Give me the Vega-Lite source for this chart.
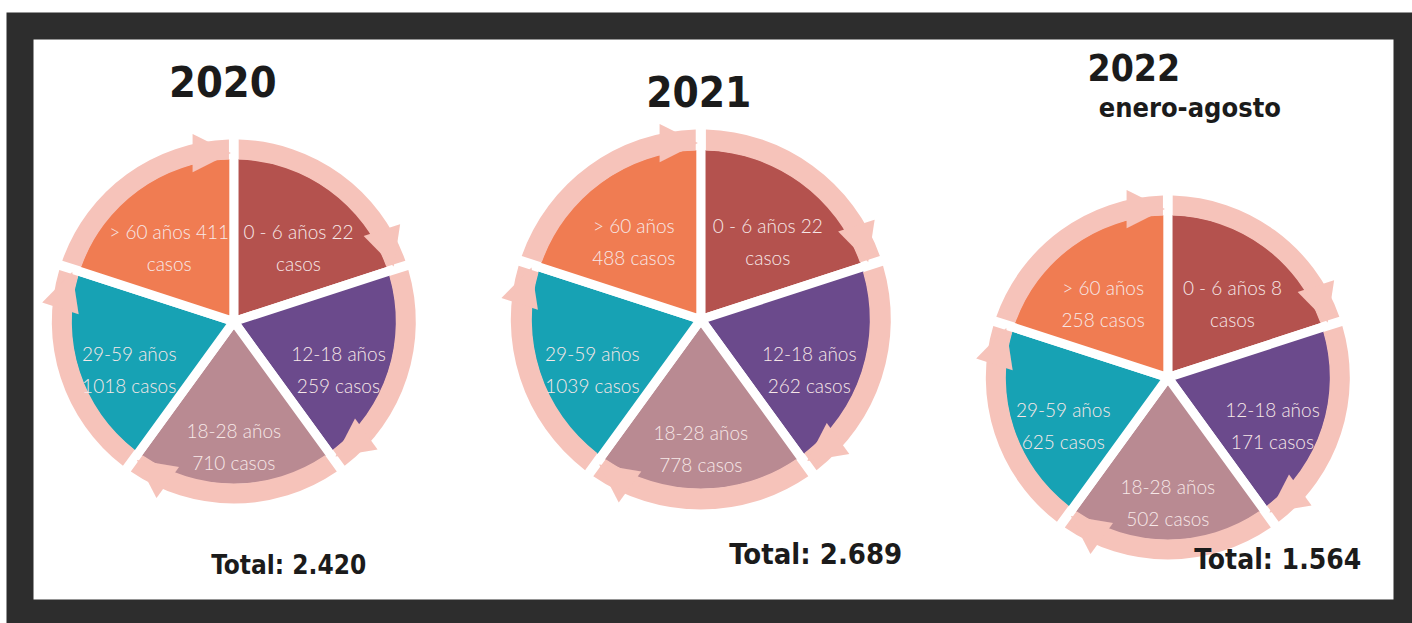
{
  "$schema": "https://vega.github.io/schema/vega-lite/v6.json",
  "width": 1412,
  "height": 623,
  "autosize": {"type": "fit", "contains": "padding"},
  "padding": {"left": 20, "top": 26, "right": 5, "bottom": 10},
  "background": "#ffffff",
  "config": {
    "view": {"fill": "#ffffff", "stroke": "#2d2d2d", "strokeWidth": 27}
  },
  "datasets": {
    "slices": [
      {"year": "2020", "group": "0 - 6 años", "order": 1, "cases": 22, "label": "0 - 6 años 22\ncasos"},
      {"year": "2020", "group": "12-18 años", "order": 2, "cases": 259, "label": "12-18 años\n259 casos"},
      {"year": "2020", "group": "18-28 años", "order": 3, "cases": 710, "label": "18-28 años\n710 casos"},
      {"year": "2020", "group": "29-59 años", "order": 4, "cases": 1018, "label": "29-59 años\n1018 casos"},
      {"year": "2020", "group": "> 60 años", "order": 5, "cases": 411, "label": "> 60 años 411\ncasos"},
      {"year": "2021", "group": "0 - 6 años", "order": 1, "cases": 22, "label": "0 - 6 años 22\ncasos"},
      {"year": "2021", "group": "12-18 años", "order": 2, "cases": 262, "label": "12-18 años\n262 casos"},
      {"year": "2021", "group": "18-28 años", "order": 3, "cases": 778, "label": "18-28 años\n778 casos"},
      {"year": "2021", "group": "29-59 años", "order": 4, "cases": 1039, "label": "29-59 años\n1039 casos"},
      {"year": "2021", "group": "> 60 años", "order": 5, "cases": 488, "label": "> 60 años\n488 casos"},
      {"year": "2022", "group": "0 - 6 años", "order": 1, "cases": 8, "label": "0 - 6 años 8\ncasos"},
      {"year": "2022", "group": "12-18 años", "order": 2, "cases": 171, "label": "12-18 años\n171 casos"},
      {"year": "2022", "group": "18-28 años", "order": 3, "cases": 502, "label": "18-28 años\n502 casos"},
      {"year": "2022", "group": "29-59 años", "order": 4, "cases": 625, "label": "29-59 años\n625 casos"},
      {"year": "2022", "group": "> 60 años", "order": 5, "cases": 258, "label": "> 60 años\n258 casos"}
    ],
    "heads": [
      {"year": "2020", "title": "2020", "sub": "", "total": "Total: 2.420"},
      {"year": "2021", "title": "2021", "sub": "", "total": "Total: 2.689"},
      {"year": "2022", "title": "2022", "sub": "enero-agosto", "total": "Total: 1.564"}
    ]
  },
  "data": {"name": "slices"},
  "encoding": {
    "x": {"field": "year", "type": "nominal", "axis": null,
          "scale": {"type": "point", "domain": ["2020", "2021", "2022"], "padding": 0.485, "align": 0.472}},
    "y": {"datum": "pie", "type": "nominal", "axis": null,
          "scale": {"type": "point", "domain": ["title", "pie", "total"], "padding": 0.233}}
  },
  "layer": [
    {
      "transform": [{"filter": "datum.year == '2020'"}],
      "mark": {"type": "arc", "outerRadius": 167, "stroke": "#ffffff", "strokeWidth": 9, "strokeJoin": "round", "yOffset": 2},
      "encoding": {
        "theta": {"aggregate": "count", "type": "quantitative", "stack": true, "scale": {"domain": [0, 5]}},
        "order": {"field": "order", "type": "quantitative"},
        "color": {"field": "group", "type": "nominal", "legend": null,
                  "scale": {"domain": ["0 - 6 años", "12-18 años", "18-28 años", "29-59 años", "> 60 años"],
                            "range": ["#b4524e", "#6b4a8c", "#b98a92", "#17a2b4", "#f07c52"]}}
      }
    },
    {
      "transform": [{"filter": "datum.year == '2020'"}],
      "mark": {"type": "arc", "innerRadius": 162, "outerRadius": 182, "padAngle": 0.04, "color": "#f6c3ba", "yOffset": 2},
      "encoding": {
        "theta": {"aggregate": "count", "type": "quantitative", "stack": true, "scale": {"domain": [0, 5]}},
        "order": {"field": "order", "type": "quantitative"},
        "detail": {"field": "group"}
      }
    },
    {
      "transform": [{"filter": "datum.year == '2020'"}],
      "mark": {"type": "text", "text": "▶", "radius": 171, "fontSize": 50, "font": "DejaVu Sans", "color": "#f6c3ba", "dx": -22, "yOffset": 2, "align": "center", "baseline": "middle"},
      "encoding": {
        "theta": {"field": "order", "type": "quantitative", "stack": null, "scale": {"domain": [0, 5]}},
        "angle": {"field": "order", "type": "quantitative", "scale": {"domain": [0, 5], "range": [0, 360]}}
      }
    },
    {
      "transform": [{"filter": "datum.year == '2020'"}],
      "mark": {"type": "text", "radius": 110, "fontSize": 19, "font": "Lato", "fontWeight": 300, "color": "#f7e8e8", "lineBreak": "\n", "lineHeight": 32, "yOffset": 2, "align": "center", "baseline": "middle"},
      "encoding": {
        "theta": {"aggregate": "count", "type": "quantitative", "stack": true, "scale": {"domain": [0, 5]}},
        "order": {"field": "order", "type": "quantitative"},
        "text": {"field": "label"},
        "detail": {"field": "group"}
      }
    },
    {
      "transform": [{"filter": "datum.year == '2021'"}],
      "mark": {"type": "arc", "outerRadius": 174, "stroke": "#ffffff", "strokeWidth": 9, "strokeJoin": "round"},
      "encoding": {
        "theta": {"aggregate": "count", "type": "quantitative", "stack": true, "scale": {"domain": [0, 5]}},
        "order": {"field": "order", "type": "quantitative"},
        "color": {"field": "group", "type": "nominal", "legend": null}
      }
    },
    {
      "transform": [{"filter": "datum.year == '2021'"}],
      "mark": {"type": "arc", "innerRadius": 169, "outerRadius": 190, "padAngle": 0.04, "color": "#f6c3ba"},
      "encoding": {
        "theta": {"aggregate": "count", "type": "quantitative", "stack": true, "scale": {"domain": [0, 5]}},
        "order": {"field": "order", "type": "quantitative"},
        "detail": {"field": "group"}
      }
    },
    {
      "transform": [{"filter": "datum.year == '2021'"}],
      "mark": {"type": "text", "text": "▶", "radius": 179, "fontSize": 50, "font": "DejaVu Sans", "color": "#f6c3ba", "dx": -22, "align": "center", "baseline": "middle"},
      "encoding": {
        "theta": {"field": "order", "type": "quantitative", "stack": null, "scale": {"domain": [0, 5]}},
        "angle": {"field": "order", "type": "quantitative", "scale": {"domain": [0, 5], "range": [0, 360]}}
      }
    },
    {
      "transform": [{"filter": "datum.year == '2021'"}],
      "mark": {"type": "text", "radius": 114, "fontSize": 19, "font": "Lato", "fontWeight": 300, "color": "#f7e8e8", "lineBreak": "\n", "lineHeight": 32, "align": "center", "baseline": "middle"},
      "encoding": {
        "theta": {"aggregate": "count", "type": "quantitative", "stack": true, "scale": {"domain": [0, 5]}},
        "order": {"field": "order", "type": "quantitative"},
        "text": {"field": "label"},
        "detail": {"field": "group"}
      }
    },
    {
      "transform": [{"filter": "datum.year == '2022'"}],
      "mark": {"type": "arc", "outerRadius": 167, "stroke": "#ffffff", "strokeWidth": 9, "strokeJoin": "round", "yOffset": 58},
      "encoding": {
        "theta": {"aggregate": "count", "type": "quantitative", "stack": true, "scale": {"domain": [0, 5]}},
        "order": {"field": "order", "type": "quantitative"},
        "color": {"field": "group", "type": "nominal", "legend": null}
      }
    },
    {
      "transform": [{"filter": "datum.year == '2022'"}],
      "mark": {"type": "arc", "innerRadius": 162, "outerRadius": 182, "padAngle": 0.04, "color": "#f6c3ba", "yOffset": 58},
      "encoding": {
        "theta": {"aggregate": "count", "type": "quantitative", "stack": true, "scale": {"domain": [0, 5]}},
        "order": {"field": "order", "type": "quantitative"},
        "detail": {"field": "group"}
      }
    },
    {
      "transform": [{"filter": "datum.year == '2022'"}],
      "mark": {"type": "text", "text": "▶", "radius": 171, "fontSize": 50, "font": "DejaVu Sans", "color": "#f6c3ba", "dx": -22, "yOffset": 58, "align": "center", "baseline": "middle"},
      "encoding": {
        "theta": {"field": "order", "type": "quantitative", "stack": null, "scale": {"domain": [0, 5]}},
        "angle": {"field": "order", "type": "quantitative", "scale": {"domain": [0, 5], "range": [0, 360]}}
      }
    },
    {
      "transform": [{"filter": "datum.year == '2022'"}],
      "mark": {"type": "text", "radius": 110, "fontSize": 19, "font": "Lato", "fontWeight": 300, "color": "#f7e8e8", "lineBreak": "\n", "lineHeight": 32, "yOffset": 58, "align": "center", "baseline": "middle"},
      "encoding": {
        "theta": {"aggregate": "count", "type": "quantitative", "stack": true, "scale": {"domain": [0, 5]}},
        "order": {"field": "order", "type": "quantitative"},
        "text": {"field": "label"},
        "detail": {"field": "group"}
      }
    },
    {
      "data": {"name": "heads"},
      "transform": [{"filter": "datum.year == '2020'"}],
      "mark": {"type": "text", "font": "DejaVu Sans Condensed", "fontWeight": "bold", "fontSize": 43, "color": "#1b1b1b", "dx": -11, "dy": 3, "align": "center", "baseline": "middle"},
      "encoding": {"y": {"datum": "title", "type": "nominal"}, "text": {"field": "title"}}
    },
    {
      "data": {"name": "heads"},
      "transform": [{"filter": "datum.year == '2021'"}],
      "mark": {"type": "text", "font": "DejaVu Sans Condensed", "fontWeight": "bold", "fontSize": 42, "color": "#1b1b1b", "dx": -2, "dy": 13, "align": "center", "baseline": "middle"},
      "encoding": {"y": {"datum": "title", "type": "nominal"}, "text": {"field": "title"}}
    },
    {
      "data": {"name": "heads"},
      "transform": [{"filter": "datum.year == '2022'"}],
      "mark": {"type": "text", "font": "DejaVu Sans Condensed", "fontWeight": "bold", "fontSize": 37, "color": "#1b1b1b", "dx": -34, "dy": -11, "align": "center", "baseline": "middle"},
      "encoding": {"y": {"datum": "title", "type": "nominal"}, "text": {"field": "title"}}
    },
    {
      "data": {"name": "heads"},
      "transform": [{"filter": "datum.year == '2022'"}],
      "mark": {"type": "text", "font": "DejaVu Sans Condensed", "fontWeight": "bold", "fontSize": 27, "color": "#1b1b1b", "dx": 22, "dy": 28, "align": "center", "baseline": "middle"},
      "encoding": {"y": {"datum": "title", "type": "nominal"}, "text": {"field": "sub"}}
    },
    {
      "data": {"name": "heads"},
      "transform": [{"filter": "datum.year == '2020'"}],
      "mark": {"type": "text", "font": "DejaVu Sans Condensed", "fontWeight": "bold", "fontSize": 26, "color": "#1b1b1b", "dx": 55, "dy": 8, "align": "center", "baseline": "middle"},
      "encoding": {"y": {"datum": "total", "type": "nominal"}, "text": {"field": "total"}}
    },
    {
      "data": {"name": "heads"},
      "transform": [{"filter": "datum.year == '2021'"}],
      "mark": {"type": "text", "font": "DejaVu Sans Condensed", "fontWeight": "bold", "fontSize": 29, "color": "#1b1b1b", "dx": 115, "dy": -3, "align": "center", "baseline": "middle"},
      "encoding": {"y": {"datum": "total", "type": "nominal"}, "text": {"field": "total"}}
    },
    {
      "data": {"name": "heads"},
      "transform": [{"filter": "datum.year == '2022'"}],
      "mark": {"type": "text", "font": "DejaVu Sans Condensed", "fontWeight": "bold", "fontSize": 28, "color": "#1b1b1b", "dx": 110, "dy": 3, "align": "center", "baseline": "middle"},
      "encoding": {"y": {"datum": "total", "type": "nominal"}, "text": {"field": "total"}}
    }
  ]
}
